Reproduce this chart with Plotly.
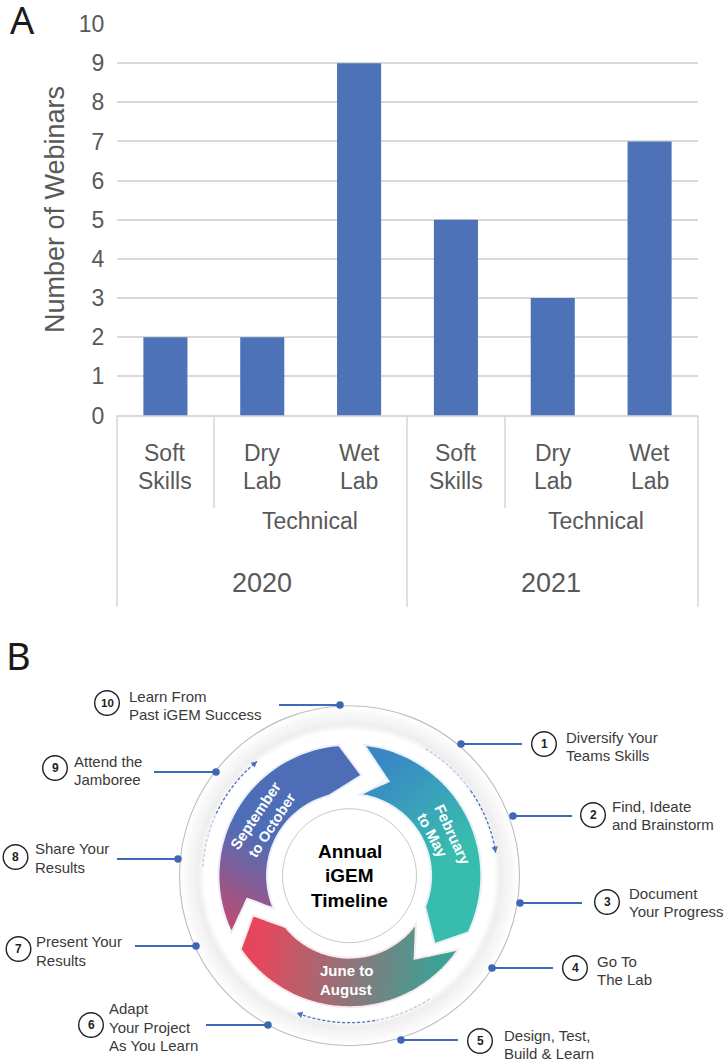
import math
import plotly.graph_objects as go

# ---------- Panel A data ----------
years = ["2020", "2021"]
groups = ["Technical", "Technical"]
categories = ["2020 Soft", "2020 Dry", "2020 Wet", "2021 Soft", "2021 Dry", "2021 Wet"]
category_labels = ["Soft<br>Skills", "Dry<br>Lab", "Wet<br>Lab", "Soft<br>Skills", "Dry<br>Lab", "Wet<br>Lab"]
webinars = [2, 2, 9, 5, 3, 7]
y_ticks = list(range(0, 11))

# ---------- Panel B data ----------
step_numbers = list(range(1, 11))
step_labels = [
    "Diversify Your<br>Teams Skills",
    "Find, Ideate<br>and Brainstorm",
    "Document<br>Your Progress",
    "Go To<br>The Lab",
    "Design, Test,<br>Build & Learn",
    "Adapt<br>Your Project<br>As You Learn",
    "Present Your<br>Results",
    "Share Your<br>Results",
    "Attend the<br>Jamboree",
    "Learn From<br>Past iGEM Success",
]
center_title = ["Annual", "iGEM", "Timeline"]

W, H = 726, 1064
PLOT_L, PLOT_R, PLOT_T, PLOT_B = 117, 698, 24, 415.5
TXT = "#595959"
GRID = "#d9d9d9"
FONT = "Liberation Sans"
CX, CY = 349.5, 875.7

# layout of the callouts: badge x,y / text x / first-line y / leader x0,x1,y
badge_xy = [(544, 744), (593, 815), (607, 902), (575, 968), (480, 1041),
            (91, 1025), (18.5, 949), (15.5, 857), (55, 768), (107, 703)]
text_x = [564, 610, 627, 595, 502, 107, 33.5, 32.5, 72, 126.5]
text_y = [737, 806, 893, 961, 1035, 1008.5, 941.5, 848.5, 761, 696]
leaders = [(461, 522, 744), (513, 572, 816), (520, 582, 903), (492, 553, 968), (401, 458, 1040),
           (268, 206, 1025), (196, 135, 946), (178, 117, 859), (216, 154, 772), (340, 279, 705)]

shapes = []
annotations = []


def note(x, y, text, size, color="#333333", bold=False, anchor="center", angle=0, family=FONT):
    if bold:
        text = "<b>" + text + "</b>"
    annotations.append(dict(x=x, y=y, xref="x2", yref="y2", text=text, showarrow=False,
                            xanchor=anchor, yanchor="middle", align="left" if anchor == "left" else "center",
                            textangle=angle, font=dict(family=family, size=size, color=color)))


def vline(x, y0, y1):
    shapes.append(dict(type="line", xref="x2", yref="y2", x0=x, x1=x, y0=y0, y1=y1,
                       line=dict(color=GRID, width=1.6), layer="below"))


def circle(r, cx=CX, cy=CY, fill="white", line=None, width=0):
    shapes.append(dict(type="circle", xref="x2", yref="y2", x0=cx - r, x1=cx + r, y0=cy - r, y1=cy + r,
                       fillcolor=fill, line=dict(color=line or "rgba(0,0,0,0)", width=width), layer="below"))


def pol(r, deg):
    a = math.radians(deg)
    return (CX + r * math.sin(a), CY - r * math.cos(a))


def arc(r, a0, a1, n=40):
    return [pol(r, a0 + (a1 - a0) * i / n) for i in range(n + 1)]


def path_of(pts, close=True):
    s = "M" + " L".join(f"{x:.2f},{y:.2f}" for x, y in pts)
    return s + (" Z" if close else "")


def clip(poly, ux, uy, limit, keep_above):
    """Half-plane clip of a polygon along the projection on (ux, uy)."""
    out = []
    sign = 1 if keep_above else -1
    for i in range(len(poly)):
        a, b = poly[i], poly[(i + 1) % len(poly)]
        da = sign * (a[0] * ux + a[1] * uy - limit)
        db = sign * (b[0] * ux + b[1] * uy - limit)
        if da >= 0:
            out.append(a)
        if da * db < 0:
            t = da / (da - db)
            out.append((a[0] + (b[0] - a[0]) * t, a[1] + (b[1] - a[1]) * t))
    return out


def hexrgb(h):
    return tuple(int(h[i:i + 2], 16) for i in (1, 3, 5))


def gradient_arrow(poly, p0, p1, c0, c1, glow, n=36):
    shapes.append(dict(type="path", xref="x2", yref="y2", path=path_of(poly), fillcolor=glow,
                       line=dict(color=glow, width=4), layer="below"))
    dx, dy = p1[0] - p0[0], p1[1] - p0[1]
    L = math.hypot(dx, dy)
    ux, uy = dx / L, dy / L
    t0 = p0[0] * ux + p0[1] * uy
    ca, cb = hexrgb(c0), hexrgb(c1)
    proj = [x * ux + y * uy for x, y in poly]
    for i in range(n):
        lo = t0 + L * i / n
        hi = t0 + L * (i + 1) / n + 0.7
        if i == 0:
            lo = min(proj) - 1
        if i == n - 1:
            hi = max(proj) + 1
        piece = clip(clip(poly, ux, uy, lo, True), ux, uy, hi, False)
        if len(piece) < 3:
            continue
        f = (i + 0.5) / n
        col = "rgb(%d,%d,%d)" % tuple(round(ca[k] + (cb[k] - ca[k]) * f) for k in range(3))
        shapes.append(dict(type="path", xref="x2", yref="y2", path=path_of(piece), fillcolor=col,
                           line=dict(width=0), layer="below"))


def dashed_arc(r, start, mid, end):
    for a0, a1, col in ((start, mid, "rgba(120,145,210,0.45)"), (mid, end, "#4a6fc0")):
        shapes.append(dict(type="path", xref="x2", yref="y2", path=path_of(arc(r, a0, a1), close=False),
                           fillcolor="rgba(0,0,0,0)", line=dict(color=col, width=1.3, dash="3px,2px"), layer="below"))
    sgn = 1 if end > start else -1
    tip = pol(r, end)
    back = end - sgn * 2.2
    head = [tip, pol(r + 3.2, back), pol(r - 3.2, back)]
    shapes.append(dict(type="path", xref="x2", yref="y2", path=path_of(head), fillcolor="#4a6fc0",
                       line=dict(width=0), layer="below"))


# ---------- Panel A frame ----------
for x in (117, 407, 698):
    vline(x, PLOT_B, 607)
for x in (214, 505):
    vline(x, PLOT_B, 508)

for i, lab in enumerate(category_labels):
    for j, part in enumerate(lab.split("<br>")):
        annotations.append(dict(x=categories[i], y=453 + 28 * j, xref="x", yref="y2", text=part, showarrow=False,
                                xanchor="center", yanchor="middle",
                                font=dict(family=FONT, size=23, color=TXT)))
for gx, g in zip((310, 596), groups):
    note(gx, 521, g, 23, TXT)
for yx, yr in zip((262, 551), years):
    note(yx, 583, yr, 27, TXT)

note(55, 210, "Number of Webinars", 27, TXT, angle=-90)
note(22, 19, "A", 38, "#1a1a1a", family="Noto Sans")
note(18, 655, "B", 38, "#1a1a1a", family="Noto Sans")

# ---------- Panel B rings ----------
for r in range(170, 145, -1):
    if r >= 152:
        f = (170 - r) / 18
    else:
        f = (r - 145) / 7
    v = round(255 - 17 * f)
    circle(r, fill=f"rgb({v},{v},{v})")
circle(145, fill="white")
circle(170, fill="rgba(0,0,0,0)", line="#bdbdbd", width=1.1)

dashed_arc(148, 31, 55, 81)
dashed_arc(147, 147, 170, 201)
dashed_arc(147, 273.5, 295, 321)

arrow_feb = arc(130.8, 7.3, 115.2) + [pol(108.8, 128)] + arc(82.6, 112, 9.3) + [pol(102.4, 23.4)]
arrow_jun = arc(130.5, 125.3, 235.7) + [pol(104.4, 246.9)] + arc(83, 231, 128) + [pol(105.9, 142.8)]
arrow_sep = arc(130, 245.2, 355.2) + [pol(101.2, 366)] + arc(83.5, 345.5, 248.1) + [pol(105, 258.1)]

gradient_arrow(arrow_feb, (366.7, 766.7), (446.7, 860), "#3a84c6", "#38bdae", "rgba(205,225,240,0.45)")
gradient_arrow(arrow_jun, (256.7, 940), (446.7, 963), "#e9455a", "#35a598", "rgba(245,205,210,0.45)")
gradient_arrow(arrow_sep, (276.7, 843), (230, 926.7), "#4b6fb8", "#bd4a72", "rgba(210,220,245,0.45)")

circle(67, fill="white", line="#c8c8c8", width=1)

for i, w in enumerate(center_title):
    note(349.5, (851.7, 875.7, 900)[i], w, 19, "#000000", bold=True)

note(255, 815, "September", 15, "white", True, angle=-56)
note(272, 825, "to October", 14.5, "white", True, angle=-57)
note(453, 834, "February", 15, "white", True, angle=65)
note(433, 835, "to May", 15, "white", True, angle=62)
note(346.7, 970.7, "June to", 15, "white", True)
note(346, 989, "August", 15, "white", True)

# ---------- Callouts ----------
for k, n in enumerate(step_numbers):
    bx, by = badge_xy[k]
    circle(12.3, bx, by, "white", "#222222", 1.4)
    note(bx, by, str(n), 11.5 if n == 10 else 12, "#222222", bold=True)
    for j, part in enumerate(step_labels[k].split("<br>")):
        note(text_x[k], text_y[k] + 18.5 * j, part, 15, "#3a3a3a", anchor="left")

fig = go.Figure()
fig.add_trace(go.Bar(x=categories, y=webinars, marker=dict(color="#4e72b8", line=dict(width=0)),
                     xaxis="x", yaxis="y", hoverinfo="skip", showlegend=False))

lead_x, lead_y = [], []
for x0, x1, y in leaders:
    lead_x += [x0, x1, None]
    lead_y += [y, y, None]
fig.add_trace(go.Scatter(x=lead_x, y=lead_y, mode="lines", line=dict(color="#4269b8", width=2),
                         xaxis="x2", yaxis="y2", hoverinfo="skip", showlegend=False))
fig.add_trace(go.Scatter(x=[l[0] for l in leaders], y=[l[2] for l in leaders], mode="markers",
                         marker=dict(color="#3f66b3", size=7.5), xaxis="x2", yaxis="y2",
                         hoverinfo="skip", showlegend=False))

fig.update_layout(
    width=W, height=H, margin=dict(l=0, r=0, t=0, b=0, pad=0), autosize=False,
    paper_bgcolor="white", plot_bgcolor="rgba(0,0,0,0)", showlegend=False, bargap=0.545,
    font=dict(family=FONT, color=TXT),
    xaxis=dict(domain=[PLOT_L / W, PLOT_R / W], type="category", categoryorder="array", categoryarray=categories,
               range=[-0.5, 5.5], showticklabels=False, ticks="", showgrid=False, zeroline=False, showline=False,
               anchor="y", automargin=False),
    yaxis=dict(domain=[1 - PLOT_B / H, 1 - PLOT_T / H], range=[0, 10], tickvals=y_ticks, ticks="outside",
               ticklen=7, tickcolor="rgba(0,0,0,0)", tickfont=dict(family=FONT, size=23, color=TXT),
               showgrid=True, gridcolor=GRID, gridwidth=1.6, zeroline=True, zerolinecolor=GRID, zerolinewidth=1.6,
               showline=False, anchor="x", automargin=False),
    xaxis2=dict(domain=[0, 1], range=[0, W], visible=False, anchor="y2", fixedrange=True),
    yaxis2=dict(domain=[0, 1], range=[H, 0], visible=False, anchor="x2", fixedrange=True),
    shapes=shapes, annotations=annotations,
)

fig.write_html("out.html", config=dict(displayModeBar=False),
               post_script="document.body.style.margin='0';document.documentElement.style.overflow='hidden';")
